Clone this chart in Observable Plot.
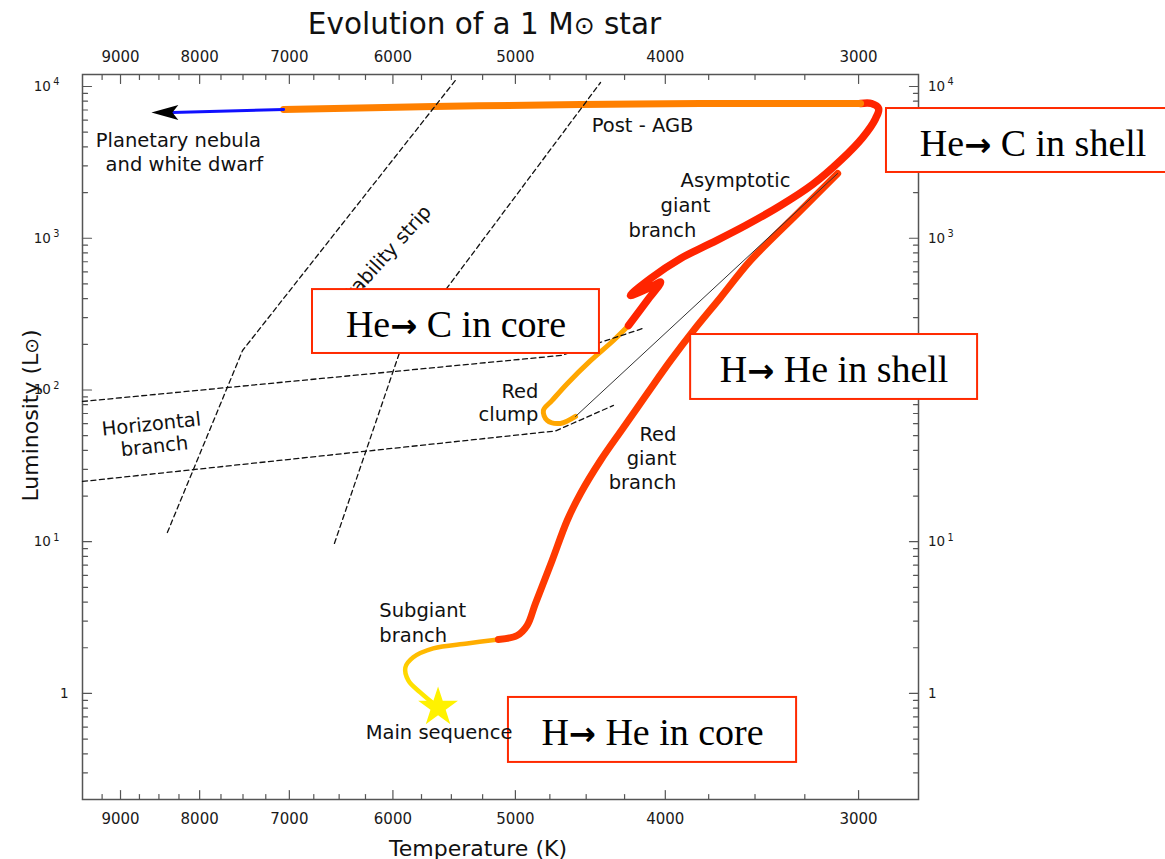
<!DOCTYPE html>
<html>
<head>
<meta charset="utf-8">
<script src="https://cdn.jsdelivr.net/npm/d3@7"></script>
<script src="https://cdn.jsdelivr.net/npm/@observablehq/plot@0.6"></script>
<style>
  html, body { margin: 0; padding: 0; background: #fff; }
  #chart svg { display: block; }
</style>
</head>
<body>
<div id="chart"></div>
<script>
// ---------- axis ticks ----------
const tempMajor = [9000, 8000, 7000, 6000, 5000, 4000, 3000];
const tempMinor = [9250, 8750, 8500, 8250, 7750, 7500, 7250, 6750, 6500, 6250,
                   5750, 5500, 5250, 4750, 4500, 4250, 3750, 3500, 3250];
const lumMajor = [1, 10, 100, 1000, 10000];
const lumMantissas = [2, 3, 4, 5, 6, 7, 8, 9];
const lumMinor = [0.1, 1, 10, 100, 1000].flatMap(dec => lumMantissas.map(m => +(m * dec).toPrecision(3)));
// right-hand decade labels (10² sits under the "H→ He in shell" box)
const lumRightLabels = [10, 1000, 10000];

// ---------- evolutionary track, [temperature K, luminosity L⊙] ----------
const mainSequenceStar = [[5610, 0.81]];
const subgiantBranch = [[5610, 0.81], [5761, 1.015], [5864, 1.22], [5890, 1.48], [5821, 1.73],
                        [5650, 1.98], [5372, 2.135], [5128, 2.27]];
const redGiantBranch = [[5128, 2.27], [4987, 2.41], [4913, 2.81], [4853, 3.92],
                        [4734, 7.52], [4629, 13.8], [4538, 20.8], [4405, 34.3], [4257, 56.6],
                        [4109, 94.8], [3969, 156], [3835, 247], [3684, 407], [3523, 714],
                        [3285, 1456], [3095, 2671]];
const heliumFlash = [[3095, 2671], [4572, 66.9]];
const redClump = [[4572, 66.9], [4676, 60.2], [4769, 63.0], [4796, 73.3], [4734, 85.3],
                  [4629, 110], [4471, 156], [4321, 212], [4225, 266]];
const asymptoticGiantBranch = [[4225, 266], [4109, 389], [4028, 513], [4089, 476], [4213, 420],
                               [4089, 543], [3910, 736], [3739, 924], [3550, 1213], [3369, 1644],
                               [3213, 2261], [3082, 3254], [2982, 4612], [2925, 6152], [2912, 7161],
                               [2943, 7727], [2991, 7727]];
const postAGB = [[2991, 7727], [3795, 7727], [4538, 7610], [5650, 7383], [7060, 7054]];
const toWhiteDwarf = [[7060, 7054], [8332, 6741]];
const whiteDwarfArrowTip = [[8596, 6741]];

// ---------- reference lines (dashed) ----------
const stripHotEdge = [[8394, 11.5], [7505, 182], [5468, 10955]];
const stripCoolEdge = [[6546, 9.74], [5935, 182], [4405, 10626]];
const hbUpper = [[9524, 84.0], [4669, 169], [4405, 206], [4138, 254]];
const hbLower = [[9524, 24.95], [4710, 53.7], [4321, 79.1]];

// ---------- phase labels ----------
const stripLabel = [{text: "Instability strip", T: 6125, L: 692, angle: -48}];
const phaseLabels = [
  {text: "Planetary nebula", T: 8257, L: 4406, anchor: "middle", angle: 0},
  {text: "and white dwarf", T: 8184, L: 3062, anchor: "middle", angle: 0},
  {text: "Post - AGB", T: 4138, L: 5534, anchor: "middle", angle: 0},
  {text: "Asymptotic", T: 3910, L: 2384, anchor: "start", angle: 0},
  {text: "giant", T: 4028, L: 1632, anchor: "start", angle: 0},
  {text: "branch", T: 4225, L: 1128, anchor: "start", angle: 0},
  {text: "Horizontal", T: 8596, L: 59.3, anchor: "middle", angle: -6},
  {text: "branch", T: 8557, L: 42.4, anchor: "middle", angle: -6},
  {text: "Red", T: 4831, L: 97.7, anchor: "end", angle: 0},
  {text: "clump", T: 4831, L: 69.0, anchor: "end", angle: 0},
  {text: "Red", T: 3934, L: 50.7, anchor: "end", angle: 0},
  {text: "giant", T: 3934, L: 35.2, anchor: "end", angle: 0},
  {text: "branch", T: 3934, L: 24.3, anchor: "end", angle: 0},
  {text: "Subgiant", T: 6123, L: 3.52, anchor: "start", angle: 0},
  {text: "branch", T: 6123, L: 2.39, anchor: "start", angle: 0},
  {text: "Main sequence", T: 5602, L: 0.553, anchor: "middle", angle: 0}
];

// ---------- burning-stage boxes: text, temperature edges, luminosity edges ----------
const stageText = ["He\u2192 C in shell", "He\u2192 C in core", "H\u2192 He in shell", "H\u2192 He in core"];
const stageTemp = [[2878, 1860], [6763, 4412], [3852, 2513], [5052, 3290]];
const stageLum = [[2713, 7161], [174, 459], [86.6, 232], [0.351, 0.941]];
const stages = stageText.map((text, i) => ({
  text, T1: stageTemp[i][0], T2: stageTemp[i][1], L1: stageLum[i][0], L2: stageLum[i][1]
}));

// ---------- shapes ----------
// a plain stroke used for inward tick marks
const tickStroke = {draw(context, l) { context.moveTo(0, 0); context.lineTo(0, -l); }};
// filled arrowhead pointing left, tip at the anchor point
const arrowHeadLeft = {draw(context, size) {
  const r = Math.sqrt(size / Math.PI);
  context.moveTo(0, 0);
  context.lineTo(2.7 * r, -0.75 * r);
  context.lineTo(2.1 * r, 0);
  context.lineTo(2.7 * r, 0.75 * r);
  context.closePath();
}};

const tickColor = "#555";
const labelColor = "#1a1a1a";
const dashed = {stroke: "#111", strokeWidth: 1.3, strokeDasharray: "5,3.5"};
const labelFont = 19.5;

function ticks(values, frameAnchor, rotate, length, channel) {
  return Plot.vector(values, {
    [channel]: d => d, frameAnchor, rotate, length, anchor: "start",
    shape: tickStroke, stroke: tickColor, strokeWidth: 1.2, fill: "none"
  });
}

const decadeFormat = d => d === 1 ? "1" : "10^" + Math.round(Math.log10(d));

const chart = Plot.plot({
  width: 1165,
  height: 859,
  marginLeft: 82,
  marginRight: 247,
  marginTop: 74,
  marginBottom: 60,
  style: {fontFamily: "'DejaVu Sans', sans-serif", fontSize: "14px", background: "#fff", color: labelColor, overflow: "visible"},
  x: {type: "log", domain: [9524, 2744]},
  y: {type: "log", domain: [0.2, 12000]},
  marks: [
    // gradient for the subgiant branch (yellow at the main sequence, orange at the base of the RGB)
    (index, scales) => {
      const ns = "http://www.w3.org/2000/svg";
      const defs = document.createElementNS(ns, "defs");
      const y0 = scales.y(subgiantBranch[0][1]);
      const y1 = scales.y(subgiantBranch[subgiantBranch.length - 1][1]);
      defs.innerHTML = `<linearGradient id="subgiant-gradient" gradientUnits="userSpaceOnUse" x1="0" y1="${y0}" x2="0" y2="${y1}">
        <stop offset="0" stop-color="#fff000"/><stop offset="0.5" stop-color="#ffd800"/><stop offset="1" stop-color="#ffa800"/></linearGradient>`;
      return defs;
    },

    Plot.frame({stroke: tickColor, strokeWidth: 1.5}),

    // inward ticks on all four sides
    ticks(tempMajor, "bottom", 0, 9, "x"),
    ticks(tempMinor, "bottom", 0, 5, "x"),
    ticks(tempMajor, "top", 180, 9, "x"),
    ticks(tempMinor, "top", 180, 5, "x"),
    ticks(lumMajor, "left", 90, 9, "y"),
    ticks(lumMinor, "left", 90, 5, "y"),
    ticks(lumMajor, "right", -90, 9, "y"),
    ticks(lumMinor, "right", -90, 5, "y"),

    // tick labels
    Plot.axisX(tempMajor, {anchor: "bottom", tickSize: 0, tickPadding: 14, tickFormat: d => String(d), fontSize: 15, label: null}),
    Plot.axisX(tempMajor, {anchor: "top", tickSize: 0, tickPadding: 12.3, tickFormat: d => String(d), fontSize: 15, label: null}),
    Plot.axisY(lumMajor.filter(d => d > 1), {anchor: "left", tickSize: 0, tickPadding: 23, tickFormat: decadeFormat, fontSize: 13.5, label: null}),
    Plot.axisY([1], {anchor: "left", tickSize: 0, tickPadding: 14, tickFormat: decadeFormat, fontSize: 13.5, label: null}),
    Plot.axisY(lumRightLabels, {anchor: "right", tickSize: 0, tickPadding: 9.5, tickFormat: decadeFormat, fontSize: 13.5, label: null}),
    Plot.axisY([1], {anchor: "right", tickSize: 0, tickPadding: 9.5, tickFormat: decadeFormat, fontSize: 13.5, label: null}),

    // title and axis titles
    Plot.text(["Evolution of a 1 M\u2299 star"], {frameAnchor: "top", textAnchor: "middle", dx: -16, dy: -40.7, lineAnchor: "bottom", fontSize: 29.5, fill: "#111"}),
    Plot.text(["Temperature (K)"], {frameAnchor: "bottom", textAnchor: "middle", dx: -22.5, dy: 56, lineAnchor: "bottom", fontSize: 22, fill: "#111"}),
    Plot.text(["Luminosity (L\u2299)"], {frameAnchor: "left", textAnchor: "middle", dx: -52, dy: -21.5, rotate: -90, fontSize: 22, fill: "#111"}),

    // evolutionary track
    Plot.line(subgiantBranch, {curve: "catmull-rom", stroke: "url(#subgiant-gradient)", strokeWidth: 4.5, strokeLinecap: "round"}),
    Plot.line(redGiantBranch, {curve: "catmull-rom", stroke: "#ff3a00", strokeWidth: 7, strokeLinecap: "round"}),
    Plot.line(redClump, {curve: "catmull-rom", stroke: "#ffa600", strokeWidth: 5, strokeLinecap: "round"}),
    Plot.line(asymptoticGiantBranch, {curve: "catmull-rom", stroke: "#ff2400", strokeWidth: 7.5, strokeLinecap: "round", strokeLinejoin: "round"}),
    Plot.line(heliumFlash, {stroke: "#333", strokeWidth: 1}),
    Plot.line(postAGB, {curve: "catmull-rom", stroke: "#ff8000", strokeWidth: 7}),
    Plot.line(toWhiteDwarf, {stroke: "#1010ff", strokeWidth: 3}),
    Plot.dot(whiteDwarfArrowTip, {symbol: arrowHeadLeft, r: 10, fill: "#000", stroke: "none"}),
    Plot.dot(mainSequenceStar, {symbol: "star", r: 12.5, fill: "#fff200", stroke: "none"}),

    // instability strip and horizontal branch
    Plot.line(stripHotEdge, dashed),
    Plot.line(stripCoolEdge, dashed),
    Plot.line(hbUpper, dashed),
    Plot.line(hbLower, dashed),
    Plot.text(stripLabel, {x: "T", y: "L", text: "text", rotate: "angle", fontSize: labelFont, fill: "#111"}),

    // burning-stage boxes
    Plot.rect(stages, {x1: "T1", x2: "T2", y1: "L1", y2: "L2", fill: "#fff", stroke: "#ff2a00", strokeWidth: 2}),
    Plot.text(stages, {
      x: d => Math.sqrt(d.T1 * d.T2), y: d => Math.sqrt(d.L1 * d.L2), text: "text", dy: 3,
      fontSize: 38, fontFamily: "'Liberation Serif', 'Times New Roman', serif", fill: "#000"
    }),

    // phase labels
    ...["start", "middle", "end"].map(a => Plot.text(phaseLabels.filter(d => d.anchor === a), {
      x: "T", y: "L", text: "text", rotate: "angle", textAnchor: a, fontSize: labelFont, fill: "#111"
    }))
  ]
});

const svgNS = "http://www.w3.org/2000/svg";
function tspan(text, attrs) {
  const s = document.createElementNS(svgNS, "tspan");
  for (const [k, v] of Object.entries(attrs)) s.setAttribute(k, v);
  s.textContent = text;
  return s;
}

// decade labels: write the exponent as a raised superscript
d3.select(chart).selectAll('g[aria-label="y-axis tick label"] text').each(function () {
  const m = /^10\^(\d+)$/.exec(this.textContent);
  if (!m) return;
  this.textContent = "10";
  this.appendChild(tspan(m[1], {dx: "0.25em", dy: "-0.55em", "font-size": "0.72em"}));
});

// smaller solar symbol, and a heavier arrow in the stage boxes
d3.select(chart).selectAll("text").each(function () {
  const t = this.textContent;
  if (this.childElementCount) return;
  if (t.includes("\u2299")) {
    const [a, b] = t.split("\u2299");
    this.textContent = a;
    this.appendChild(tspan("\u2299", {"font-size": "0.85em"}));
    this.appendChild(document.createTextNode(b));
  } else if (t.includes("\u2192")) {
    const [a, b] = t.split("\u2192");
    this.textContent = a;
    this.appendChild(tspan("\u2192", {"font-family": "'DejaVu Sans', sans-serif", "font-weight": "bold", "font-size": "0.85em"}));
    this.appendChild(document.createTextNode(b));
  }
});

document.getElementById("chart").appendChild(chart);
</script>
</body>
</html>
